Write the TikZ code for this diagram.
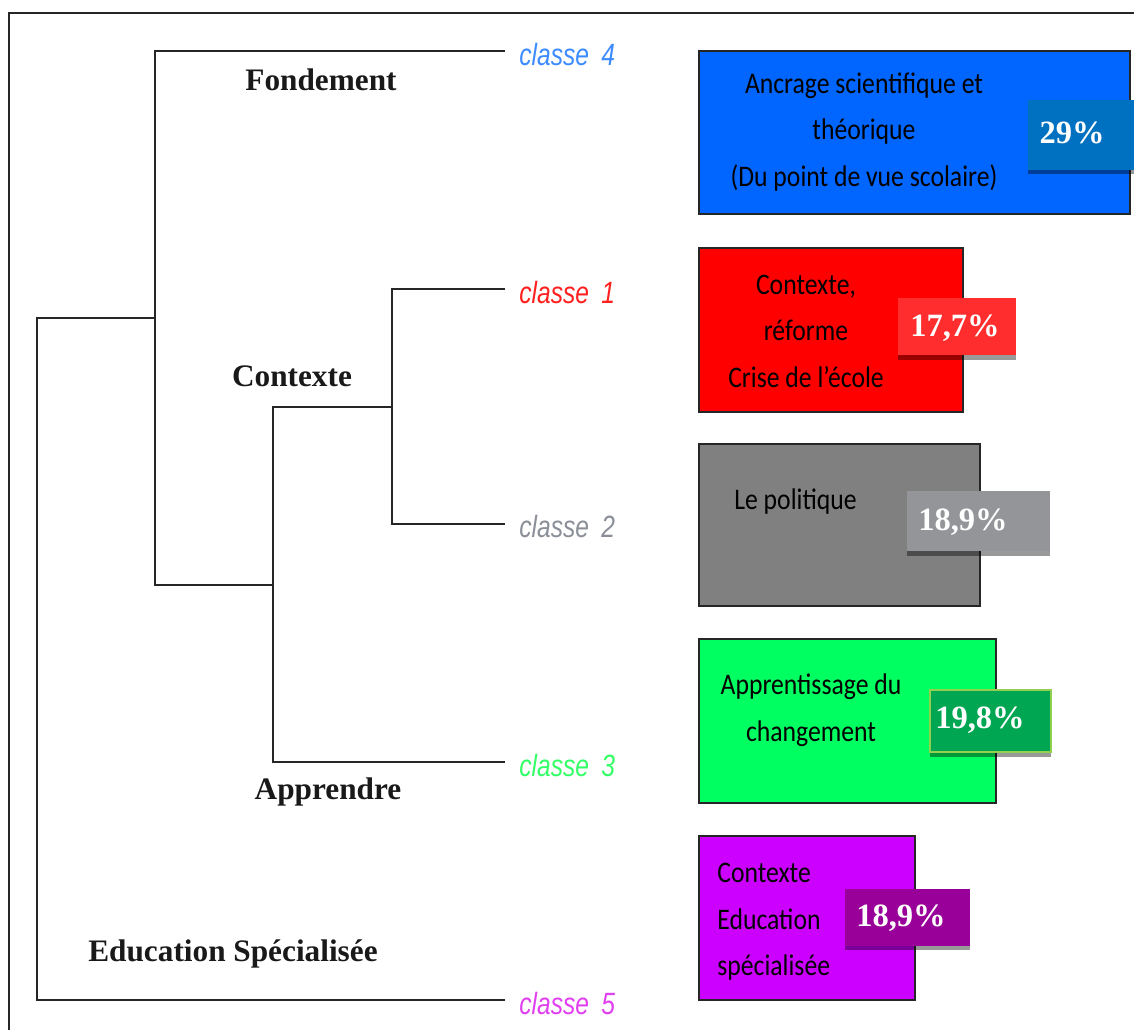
\documentclass[tikz,border=0pt]{standalone}
\usepackage{fontspec}
\setmainfont{Liberation Serif}
\newfontfamily\calibrif{Carlito}
\newfontfamily\arialf{Liberation Sans}
\usepackage{graphicx}
\definecolor{bluebox}{HTML}{0066FF}
\definecolor{bluebadge}{HTML}{0070C0}
\definecolor{redbox}{HTML}{FF0000}
\definecolor{redbadge}{HTML}{FF2D2D}
\definecolor{graybox}{HTML}{808080}
\definecolor{graybadge}{HTML}{939598}
\definecolor{greenbox}{HTML}{00FF60}
\definecolor{greenbadge}{HTML}{00A651}
\definecolor{greenedge}{HTML}{92D050}
\definecolor{purplebox}{HTML}{CC00FF}
\definecolor{purplebadge}{HTML}{990099}
\definecolor{cfour}{HTML}{3D8BFF}
\definecolor{cone}{HTML}{FF2020}
\definecolor{ctwo}{HTML}{8A8F98}
\definecolor{cthree}{HTML}{33FF66}
\definecolor{cfive}{HTML}{E040F0}
\newcommand{\sx}[1]{\scalebox{0.86}[1]{#1}}
\newcommand{\cx}[1]{\scalebox{0.8}[1]{#1}}
\begin{document}
\begin{tikzpicture}[x=0.02cm,y=-0.02cm,
  dendro/.style={line width=1.2pt,black!85},
  frameline/.style={line width=1.3pt,black!85},
  classlbl/.style={anchor=west,inner sep=0pt,font=\arialf\itshape\fontsize{17.5}{19}\selectfont},
  grplbl/.style={inner sep=0pt,font=\bfseries\fontsize{17.8}{20}\selectfont,text=black!90},
  catbox/.style={draw=black!85,line width=1.1pt,inner sep=0pt},
  boxtxt/.style={inner sep=0pt,font=\calibrif\fontsize{17}{26.5}\selectfont,text=black},
  badge/.style={inner sep=0pt,text=white,font=\bfseries\fontsize{18.5}{20}\selectfont},
  shadowbar/.style={fill=black,fill opacity=0.4,draw=none}]
\useasboundingbox (0,0) rectangle (1134,1030);
\clip (0,0) rectangle (1134,1030);
\draw[frameline] (9,13) rectangle (1150,1050);

% dendrogram coordinates
\coordinate (root) at (37,318);
\coordinate (rootb) at (37,1000);
\coordinate (na) at (155,318);
\coordinate (nat) at (155,51);
\coordinate (nab) at (155,585);
\coordinate (nb) at (273,585);
\coordinate (nbt) at (273,407);
\coordinate (nbb) at (273,762);
\coordinate (nc) at (392,407);
\coordinate (nct) at (392,289);
\coordinate (ncb) at (392,524);
\coordinate (e4) at (505,51);
\coordinate (e1) at (505,289);
\coordinate (e2) at (505,524);
\coordinate (e3) at (505,762);
\coordinate (e5) at (505,1000);

\draw[dendro] (e4) -- (nat) -- (nab) -- (nb);
\draw[dendro] (na) -- (root) -- (rootb) -- (e5);
\draw[dendro] (e3) -- (nbb) -- (nbt) -- (nc);
\draw[dendro] (e1) -- (nct) -- (ncb) -- (e2);

% class labels
\node[classlbl,text=cfour] (c4) at (519,55) {\cx{classe\,\,\,4}};
\node[classlbl,text=cone] (c1) at (519,293) {\cx{classe\,\,\,1}};
\node[classlbl,text=ctwo] (c2) at (519,527) {\cx{classe\,\,\,2}};
\node[classlbl,text=cthree] (c3) at (519,766) {\cx{classe\,\,\,3}};
\node[classlbl,text=cfive] (c5) at (519,1004) {\cx{classe\,\,\,5}};

% group labels
\node[grplbl] (gfond) at (321,80) {Fondement};
\node[grplbl] (gctx) at (292,376) {Contexte};
\node[grplbl] (gapp) at (328,792) {Apprendre};
\node[grplbl] (ged) at (233,954) {Education Spécialisée};

% category boxes
\path[catbox,fill=bluebox] (699,51) rectangle (1130,214);
\path[catbox,fill=redbox] (699,248) rectangle (963,412);
\path[catbox,fill=graybox] (699,444) rectangle (980,606);
\path[catbox,fill=greenbox] (699,639) rectangle (996,803);
\path[catbox,fill=purplebox] (699,836) rectangle (915,1000);

\node[boxtxt,align=center] (t4) at (864,132) {\sx{Ancrage scientifique et}\\\sx{théorique}\\\sx{(Du point de vue scolaire)}};
\node[boxtxt,align=center] (t1) at (806,331) {\sx{Contexte,}\\\sx{réforme}\\\sx{Crise de l’école}};
\node[boxtxt,anchor=west] (t2) at (734,502) {\sx{Le politique}};
\node[boxtxt,align=center] (t3) at (811,710) {\sx{Apprentissage du}\\\sx{changement}};
\node[boxtxt,align=left,anchor=west] (t5) at (717,922) {\sx{Contexte}\\\sx{Education}\\\sx{spécialisée}};

% badges
\path[shadowbar] (1028,104) rectangle (1134,174);
\path[fill=bluebadge] (1028,100) rectangle (1134,170);
\node[badge] (b4) at (1072,133) {29\%};

\path[shadowbar] (898,302) rectangle (1016,360);
\path[fill=redbadge] (898,298) rectangle (1016,355);
\node[badge] (b1) at (955,328) {17,7\%};

\path[shadowbar] (907,495) rectangle (1050,556);
\path[fill=graybadge] (907,491) rectangle (1050,551);
\node[badge,anchor=west] (b2) at (918,522) {18,9\%};

\path[shadowbar] (930,694) rectangle (1051,757);
\path[fill=greenbadge,draw=greenedge,line width=0.8pt] (930,690) rectangle (1051,752);
\node[badge] (b3) at (980,720) {19,8\%};

\path[shadowbar] (845,893) rectangle (970,950);
\path[fill=purplebadge] (845,889) rectangle (970,946);
\node[badge,anchor=west] (b5) at (856,918) {18,9\%};
\end{tikzpicture}
\end{document}
